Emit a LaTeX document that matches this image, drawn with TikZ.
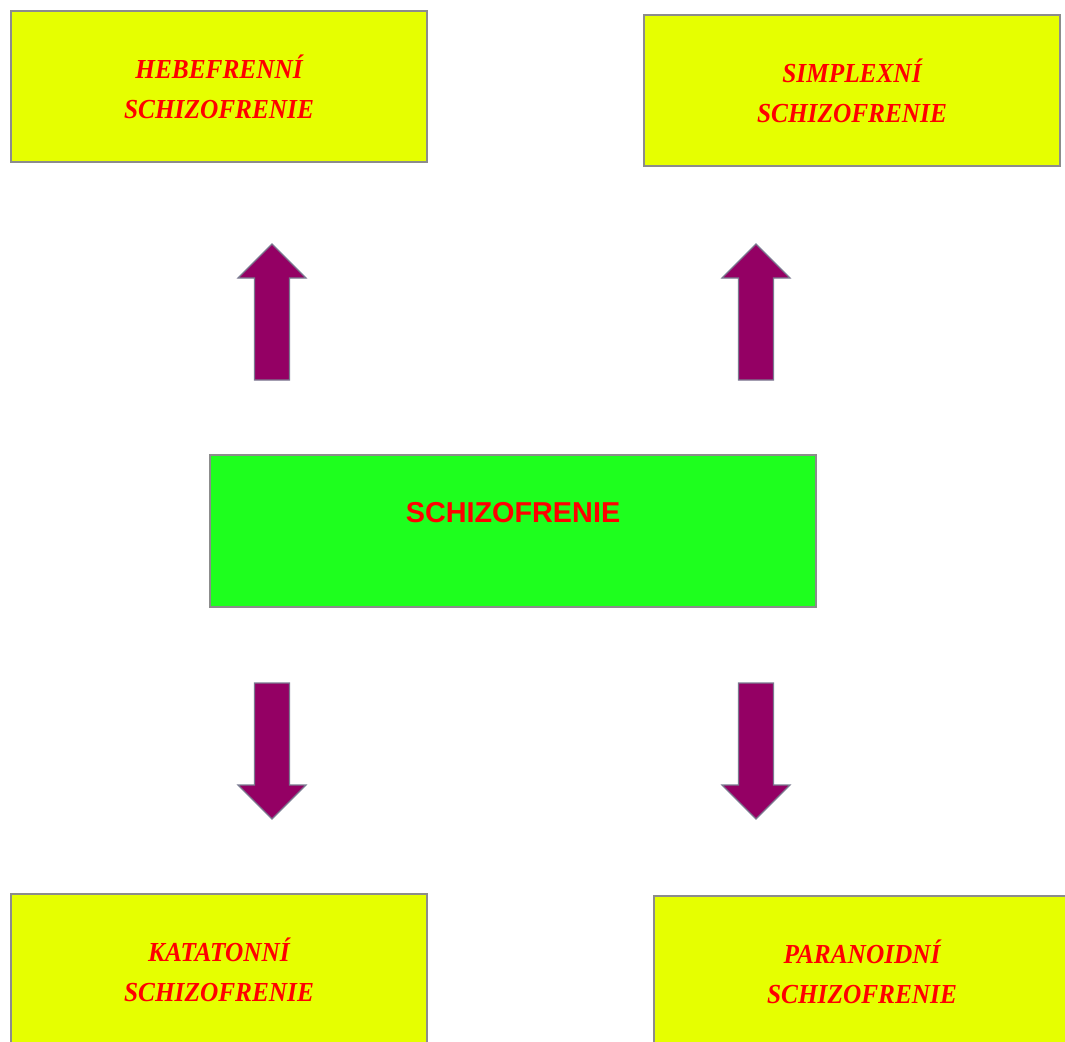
\documentclass[tikz,border=0pt]{standalone}
\usepackage{fontspec}
\usepackage{xcolor}
\usepackage{tikz}
\newfontfamily\typfont[FakeStretch=0.92]{Liberation Serif}
\newfontfamily\hlavfont{Liberation Sans}
\definecolor{typyellow}{HTML}{E6FF00}
\definecolor{hlavgreen}{HTML}{1EFF1E}
\definecolor{arrowpurple}{HTML}{940064}
\definecolor{edgegray}{HTML}{8C8C8C}
\definecolor{arrowedge}{HTML}{7A7A90}

\begin{document}
\begin{tikzpicture}[x=1pt,y=-1pt,
    type node/.style={rectangle,draw=edgegray,line width=1.2pt,fill=typyellow,minimum width=416pt,minimum height=151pt,text=red,align=center,font=\typfont\bfseries\itshape\fontsize{27.5}{40}\selectfont},
    main node/.style={rectangle,draw=edgegray,line width=1.2pt,fill=hlavgreen,minimum width=606pt,minimum height=152pt},
    main text/.style={text=red,font=\hlavfont\bfseries\fontsize{28.8}{32}\selectfont},
    blockarrow/.style={draw=arrowedge,line width=1.2pt,fill=arrowpurple,line join=miter}]
  \useasboundingbox (0,0) rectangle (1065,1041);
    \node[type node] (hebe) at (219,86.5) {HEBEFRENNÍ\\SCHIZOFRENIE};
    \node[type node] (simplex) at (852,90.5) {SIMPLEXNÍ\\SCHIZOFRENIE};
    \node[main node] (schizo) at (513,531) {};
    \node[main text] (schizotext) at (513,513) {SCHIZOFRENIE};
    \node[type node] (kata) at (219,969.5) {KATATONNÍ\\SCHIZOFRENIE};
    \node[type node] (para) at (862,971.5) {PARANOIDNÍ\\SCHIZOFRENIE};
    % up arrows
    \foreach \x in {272,756}
      \draw[blockarrow] (\x-17.5,380) -- (\x-17.5,278) -- (\x-34,278) -- (\x,244)
        -- (\x+34,278) -- (\x+17.5,278) -- (\x+17.5,380) -- cycle;
    % down arrows
    \foreach \x in {272,756}
      \draw[blockarrow] (\x-17.5,683) -- (\x-17.5,785) -- (\x-34,785) -- (\x,819)
        -- (\x+34,785) -- (\x+17.5,785) -- (\x+17.5,683) -- cycle;
  \end{tikzpicture}
\end{document}
